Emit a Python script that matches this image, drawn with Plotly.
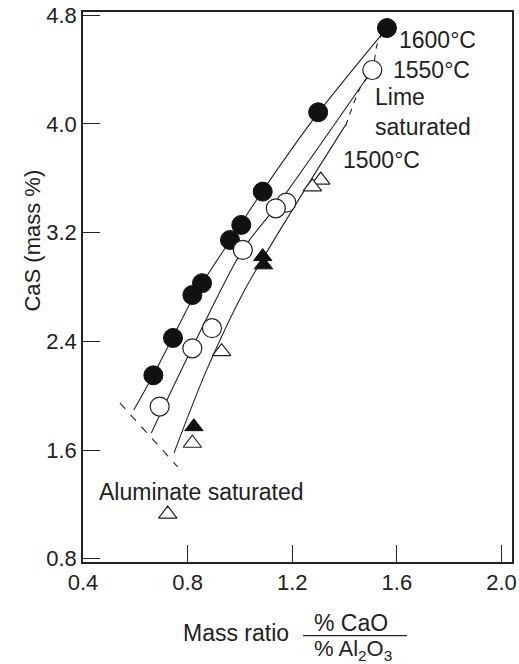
import plotly.graph_objects as go

# ---- data ----
c1600_x = [1.562, 1.299, 1.087, 1.005, 0.962, 0.855, 0.818, 0.744, 0.669]
c1600_y = [4.706, 4.086, 3.502, 3.257, 3.146, 2.828, 2.741, 2.425, 2.150]

c1550_x = [1.506, 1.177, 1.137, 1.011, 0.893, 0.818, 0.693]
c1550_y = [4.397, 3.421, 3.379, 3.073, 2.497, 2.349, 1.920]

t1500_open_x = [1.309, 1.277, 0.930, 0.818]
t1500_open_y = [3.587, 3.537, 2.324, 1.650]
t1500_fill_x = [1.087, 1.090, 0.824]
t1500_fill_y = [3.024, 2.963, 1.772]

alum_x = [0.724]
alum_y = [1.129]

line1600_x = [0.594, 0.669, 0.744, 0.823, 0.969, 1.089, 1.299, 1.562]
line1600_y = [1.895, 2.153, 2.433, 2.727, 3.161, 3.514, 4.081, 4.706]
line1550_x = [0.661, 0.819, 1.010, 1.149, 1.506]
line1550_y = [1.726, 2.359, 3.073, 3.419, 4.397]
line1500_x = [0.748, 0.868, 1.018, 1.224, 1.404]
line1500_y = [1.579, 2.168, 2.778, 3.441, 3.993]
lime_x = [1.404, 1.461, 1.506, 1.524, 1.555]
lime_y = [3.985, 4.272, 4.397, 4.581, 4.706]
alumline_x = [0.541, 0.762]
alumline_y = [1.947, 1.476]

x_ticks = [0.4, 0.8, 1.2, 1.6, 2.0]
y_ticks = [0.8, 1.6, 2.4, 3.2, 4.0, 4.8]

INK = "#222222"
FONT = "Liberation Sans, Arial, Helvetica, sans-serif"

fig = go.Figure()

def curve(x, y, dash="solid"):
    fig.add_trace(go.Scatter(x=x, y=y, mode="lines",
                             line=dict(color=INK, width=1.1, dash=dash, shape="spline", smoothing=0.8),
                             showlegend=False, hoverinfo="skip"))

curve(line1600_x, line1600_y)
curve(line1550_x, line1550_y)
curve(line1500_x, line1500_y)
curve(lime_x, lime_y, dash="6px,6px")
curve(alumline_x, alumline_y, dash="8px,8px")

fig.add_trace(go.Scatter(x=c1600_x, y=c1600_y, mode="markers",
                         marker=dict(symbol="circle", size=19, color="#111111",
                                     line=dict(color="#111111", width=1)),
                         showlegend=False))
fig.add_trace(go.Scatter(x=c1550_x, y=c1550_y, mode="markers",
                         marker=dict(symbol="circle", size=19, color="white",
                                     line=dict(color=INK, width=1.2)),
                         showlegend=False))
fig.add_trace(go.Scatter(x=t1500_open_x + alum_x, y=t1500_open_y + alum_y, mode="markers",
                         marker=dict(symbol="triangle-up", size=16, color="white",
                                     line=dict(color=INK, width=1.2)),
                         showlegend=False))
fig.add_trace(go.Scatter(x=t1500_fill_x, y=t1500_fill_y, mode="markers",
                         marker=dict(symbol="triangle-up", size=16, color="#111111",
                                     line=dict(color="#111111", width=1)),
                         showlegend=False))

ann_font = dict(family=FONT, size=23, color=INK)
for txt, x, y in [("1600°C", 1.600, 4.618), ("1550°C", 1.578, 4.397),
                  ("Lime<br>saturated", 1.508, 4.085), ("1500°C", 1.385, 3.735),
                  ("Aluminate saturated", 0.455, 1.294)]:
    fig.add_annotation(x=x, y=y, xref="x", yref="y", text=txt, showarrow=False,
                       xanchor="left", yanchor="middle", align="left", font=ann_font)

# axis titles (paper coords relative to the plot area)
fig.add_annotation(x=-0.152, y=0.585, xref="paper", yref="paper", text="CaS (mass %)",
                   textangle=-90, showarrow=False, font=dict(family=FONT, size=22, color=INK))
fig.add_annotation(x=0.357, y=-0.129, xref="paper", yref="paper", text="Mass ratio",
                   showarrow=False, yanchor="middle", font=ann_font)
fig.add_annotation(x=0.625, y=-0.111, xref="paper", yref="paper", text="% CaO",
                   showarrow=False, yanchor="middle", font=ann_font)
fig.add_annotation(x=0.629, y=-0.138, xref="paper", yref="paper", text="% Al<sub>2</sub>O<sub>3</sub>",
                   showarrow=False, yanchor="top", yshift=4, font=dict(family=FONT, size=22, color=INK))
fig.add_shape(type="line", xref="paper", yref="paper", x0=0.513, x1=0.755, y0=-0.134, y1=-0.134,
              line=dict(color=INK, width=1.2))

axis_common = dict(showgrid=False, zeroline=False, showline=True, linecolor=INK, linewidth=1.5,
                   mirror=True, ticks="inside", ticklen=17, tickwidth=1.2, tickcolor=INK,
                   automargin=False, ticklabeloverflow="allow",
                   tickfont=dict(family=FONT, size=22, color=INK))
fig.update_xaxes(range=[0.4, 2.04], tickvals=x_ticks, ticktext=[f"{v:.1f}" for v in x_ticks], **axis_common)
fig.update_yaxes(range=[0.776, 4.824], tickvals=y_ticks, ticktext=[f"{v:.1f}" for v in y_ticks], **axis_common)

fig.update_layout(width=519, height=664, margin=dict(l=83, r=7, t=12, b=102, autoexpand=False),
                  plot_bgcolor="white", paper_bgcolor="white", showlegend=False,
                  font=dict(family=FONT, color=INK))

# remove the browser's default 8px body margin so the figure fills the window exactly
fig.write_html("out.html", config={"displayModeBar": False},
               post_script="document.body.style.margin='0px';"
                           "document.documentElement.style.overflow='hidden';")
